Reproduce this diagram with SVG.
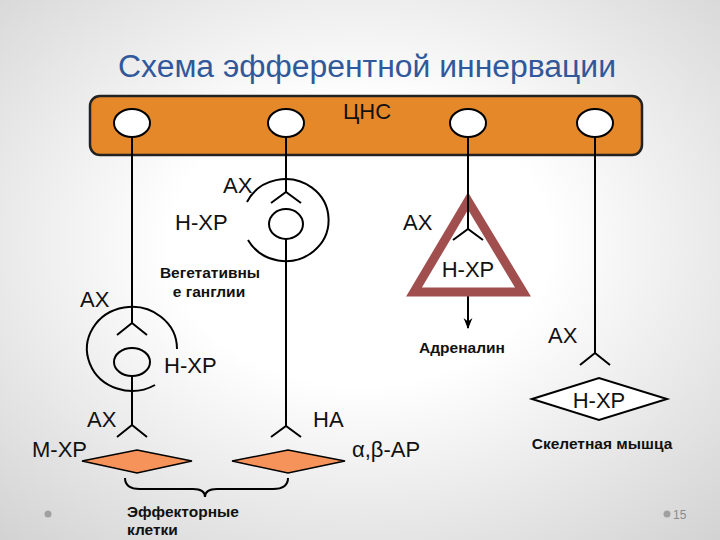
<svg xmlns="http://www.w3.org/2000/svg" width="720" height="540" viewBox="0 0 720 540">
<defs>
<radialGradient id="bg" cx="50%" cy="45%" r="75%">
<stop offset="0.35" stop-color="#ffffff"/>
<stop offset="1" stop-color="#d2d2d2"/>
</radialGradient>
<marker id="arr" viewBox="0 0 10 10" refX="9" refY="5" markerWidth="11" markerHeight="11" orient="auto" markerUnits="userSpaceOnUse">
<path d="M0,1 L10,5 L0,9 L3,5 Z" fill="#000"/>
</marker>
</defs>
<style>
.lbl{font-family:"Liberation Sans",Arial,sans-serif;font-size:22px;fill:#111}
.bold{font-family:"Liberation Sans",Arial,sans-serif;font-size:15.5px;font-weight:bold;fill:#111}
.ln{stroke:#000;stroke-width:2;fill:none}
.cell{fill:#fff;stroke:#000;stroke-width:2}
.eff{fill:#f6935a;stroke:#000;stroke-width:1.5}
</style>
<rect width="720" height="540" fill="url(#bg)"/>
<text x="367" y="77" text-anchor="middle" font-family="Liberation Sans,Arial,sans-serif" font-size="31" fill="#30589a" textLength="498" lengthAdjust="spacingAndGlyphs">Схема эфферентной иннервации</text>

<g id="cns">
<rect x="90" y="96" width="552" height="59" rx="10" fill="#e5882a" stroke="#222" stroke-width="2.5"/>
<text class="lbl" x="367" y="119" text-anchor="middle">ЦНС</text>
<ellipse class="cell" cx="132" cy="123" rx="18" ry="14"/>
<ellipse class="cell" cx="286" cy="123" rx="18" ry="14"/>
<ellipse class="cell" cx="468" cy="123" rx="18" ry="14"/>
<ellipse class="cell" cx="595" cy="123" rx="18" ry="14"/>
</g>

<g id="connectors">
<path class="ln" d="M132,137 V323 M117,335 L132,323 L147,335"/>
<path class="ln" d="M132,376 V425 M117,437 L132,425 L147,437"/>
<path class="ln" d="M286,137 V192 M271,203 L286,192 L301,203"/>
<path class="ln" d="M286,239 V426 M271,437 L286,426 L301,437"/>
<path class="ln" d="M595,137 V353 M580,365 L595,353 L610,365"/>
<path class="ln" d="M468,287 V328" marker-end="url(#arr)"/>
<path d="M125,478 Q125,489 140,489 H193 Q205,489 205,497 Q205,489 217,489 H273 Q288,489 288,478" class="ln"/>
</g>

<g id="ganglion-left">
<path class="ln" d="M177,349 A45,42 0 1 0 155,385"/>
<ellipse class="ln" cx="132" cy="362" rx="18" ry="14"/>
<text class="lbl" x="80" y="307">АХ</text>
<text class="lbl" x="164" y="373">Н-ХР</text>
<text class="lbl" x="87" y="427">АХ</text>
</g>

<g id="ganglion-mid">
<path class="ln" d="M247,202 A43,41 0 1 1 248,240"/>
<ellipse class="ln" cx="286" cy="224" rx="17" ry="15"/>
<text class="lbl" x="223" y="193">АХ</text>
<text class="lbl" x="175" y="230">Н-ХР</text>
<text class="bold" x="210" y="278" text-anchor="middle">Вегетативны</text>
<text class="bold" x="209" y="297" text-anchor="middle">е ганглии</text>
</g>

<g id="adrenal">
<path d="M468,201 L414,292 L523,292 Z" fill="#fff" stroke="#a04f4e" stroke-width="9" stroke-linejoin="miter"/>
<path class="ln" d="M468,137 V229 M453,240 L468,229 L483,240"/>
<text class="lbl" x="403" y="230">АХ</text>
<text class="lbl" x="468" y="277" text-anchor="middle">Н-ХР</text>
<text class="bold" x="462" y="353" text-anchor="middle">Адреналин</text>
</g>

<g id="effector-m">
<polygon class="eff" points="82,461 137,450 192,461 137,473"/>
<text class="lbl" x="32" y="457">М-ХР</text>
</g>

<g id="effector-a">
<polygon class="eff" points="232,461 288,450 345,461 288,473"/>
<text class="lbl" x="313" y="427">НА</text>
<text class="lbl" x="352" y="457">α,β-АР</text>
</g>

<g id="muscle">
<polygon points="532,399 599,378 667,399 599,420" fill="#fff" stroke="#000" stroke-width="2"/>
<text class="lbl" x="599" y="408" text-anchor="middle">Н-ХР</text>
<text class="lbl" x="548" y="343">АХ</text>
<text class="bold" x="602" y="449" text-anchor="middle">Скелетная мышца</text>
</g>

<g id="effector-label">
<text class="bold" x="127" y="517">Эффекторные</text>
<text class="bold" x="127" y="535">клетки</text>
</g>

<g id="footer">
<circle cx="48" cy="514" r="3.5" fill="#a0a0a0"/>
<circle cx="667" cy="514" r="3.5" fill="#a0a0a0"/>
<text x="673" y="519" font-family="Liberation Sans,Arial,sans-serif" font-size="12" fill="#8a8a8a">15</text>
</g>
</svg>
